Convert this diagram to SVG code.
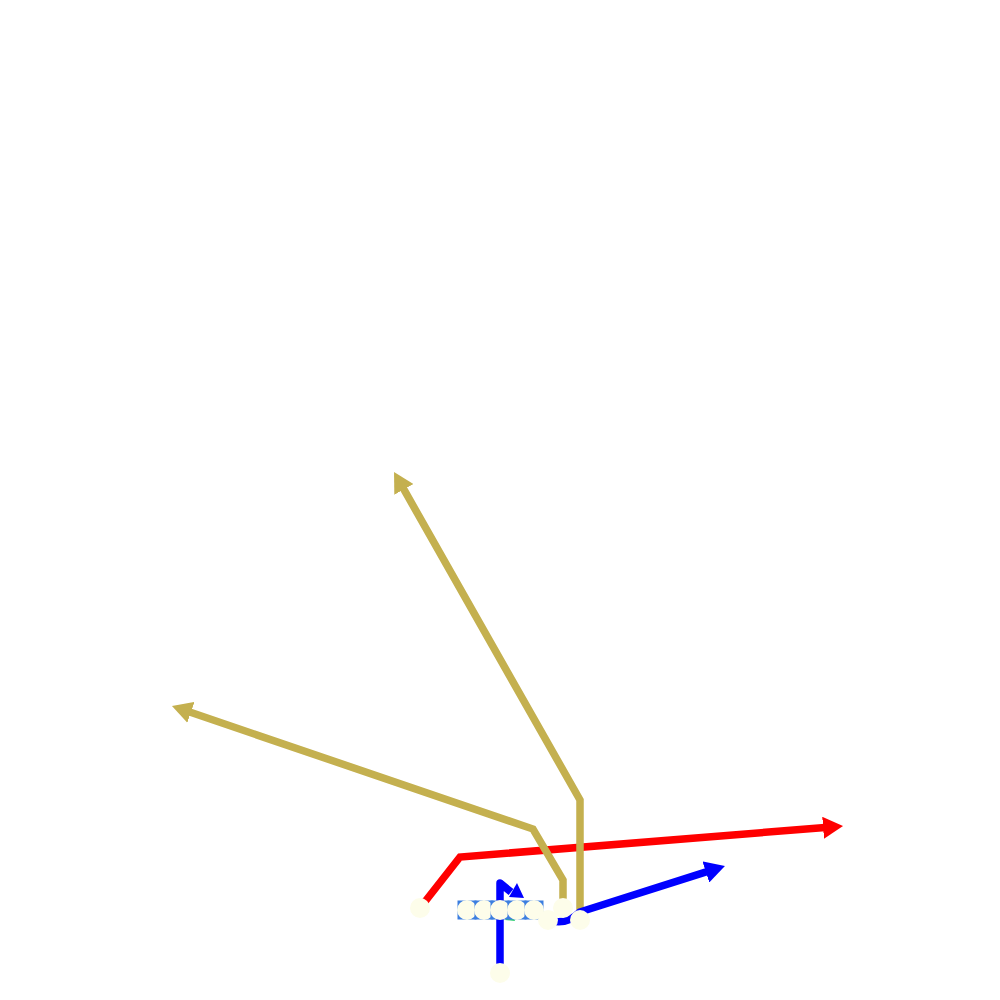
<svg xmlns="http://www.w3.org/2000/svg" width="1000" height="1000" viewBox="0 0 1000 1000">
<style>
.route{fill:none;stroke-width:7.5;stroke-linejoin:miter;stroke-linecap:butt}
.gold{stroke:#c4b04f}
.red{stroke:#ff0000}
.blue{stroke:#0000ff}
.player{fill:#fdfdea;stroke:none}
.block{fill:none;stroke:#3c7ee0;stroke-width:3}
</style>
<defs>
<marker id="ahGold" markerUnits="userSpaceOnUse" markerWidth="22" markerHeight="22" refX="2" refY="11" orient="auto"><path d="M0,0 L20,11 L0,22 z" fill="#c4b04f"/></marker>
<marker id="ahRed" markerUnits="userSpaceOnUse" markerWidth="22" markerHeight="22" refX="2" refY="11" orient="auto"><path d="M0,0 L20,11 L0,22 z" fill="#ff0000"/></marker>
<marker id="ahBlue" markerUnits="userSpaceOnUse" markerWidth="22" markerHeight="22" refX="2" refY="11" orient="auto"><path d="M0,0 L20,11 L0,22 z" fill="#0000ff"/></marker>
</defs>
<rect width="1000" height="1000" fill="#ffffff"/>
<g id="connectors">
<path class="route red" d="M420,908 L460,857 L825.1,827.5" marker-end="url(#ahRed)"/>
<path class="route gold" d="M563,910 L563,880 L533,829 L189,711.8" marker-end="url(#ahGold)"/>
<path class="route gold" d="M580,920 L580,800 L402.9,487.7" marker-end="url(#ahGold)"/>
<path class="route blue" d="M548,920 Q566,926 580,912 L707.8,871.4" marker-end="url(#ahBlue)"/>
<path class="route blue" style="stroke-linejoin:round" d="M500,973 L500,883 L511,892"/>
<polygon points="509,897 517,883 524,898" fill="#0000ff"/>
</g>
<g id="ball"><polygon points="505,920 512,913 515,921" fill="#2ecc71"/></g>
<g id="lt"><rect class="block" x="459" y="902" width="16" height="16"/><circle class="player" cx="467" cy="910" r="10"/></g>
<g id="lg"><rect class="block" x="476" y="902" width="16" height="16"/><circle class="player" cx="484" cy="910" r="10"/></g>
<g id="c"><rect class="block" x="492" y="902" width="16" height="16"/><circle class="player" cx="500" cy="910" r="10"/></g>
<g id="rg"><rect class="block" x="509" y="902" width="16" height="16"/><circle class="player" cx="517" cy="910" r="10"/></g>
<g id="rt"><rect class="block" x="526" y="902" width="16" height="16"/><circle class="player" cx="534" cy="910" r="10"/></g>
<g id="wr-left"><circle class="player" cx="420" cy="908" r="10"/></g>
<g id="qb"><circle class="player" cx="500" cy="973" r="10"/></g>
<g id="te"><circle class="player" cx="548" cy="920" r="10"/></g>
<g id="slot"><circle class="player" cx="563" cy="908" r="10"/></g>
<g id="wr-right"><circle class="player" cx="580" cy="920" r="10"/></g>
</svg>
